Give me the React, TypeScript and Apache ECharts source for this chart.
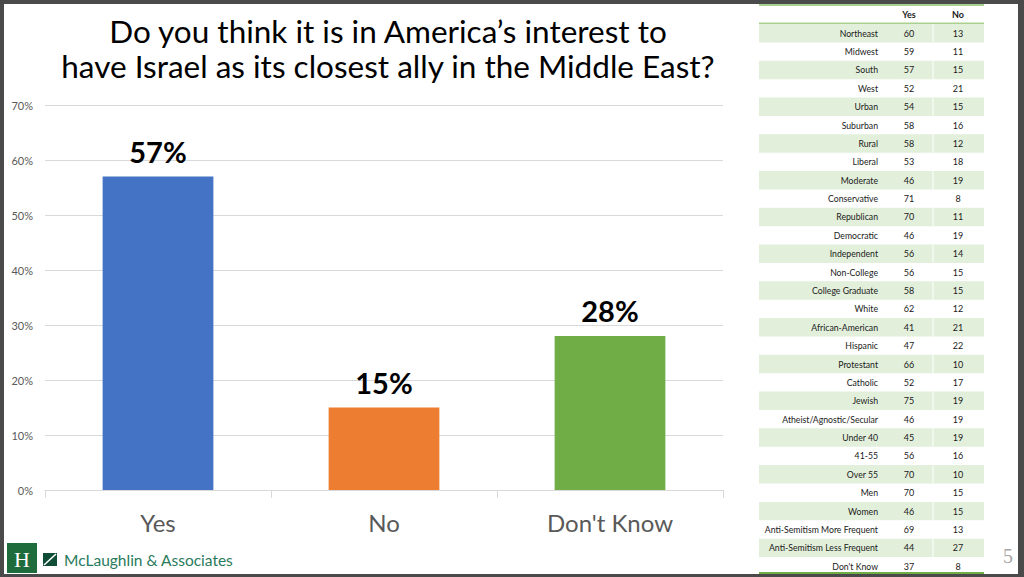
import React, { useEffect, useRef } from "react";
import * as echarts from "echarts";

const TITLE_LINES = [
  "Do you think it is in America\u2019s interest to",
  "have Israel as its closest ally in the Middle East?",
];
const CATEGORIES = ["Yes", "No", "Don't Know"];
const VALUES = [57, 15, 28];
const BAR_COLORS = ["#4472c4", "#ed7d31", "#70ad47"];

const TABLE_HEADERS = ["Yes", "No"];
const TABLE_LABELS = [
  "Northeast", "Midwest", "South", "West", "Urban", "Suburban", "Rural",
  "Liberal", "Moderate", "Conservative", "Republican", "Democratic", "Independent",
  "Non-College", "College Graduate", "White", "African-American", "Hispanic",
  "Protestant", "Catholic", "Jewish", "Atheist/Agnostic/Secular", "Under 40",
  "41-55", "Over 55", "Men", "Women", "Anti-Semitism More Frequent",
  "Anti-Semitism Less Frequent", "Don't Know",
];
const TABLE_YES = [60, 59, 57, 52, 54, 58, 58, 53, 46, 71, 70, 46, 56, 56, 58, 62, 41, 47, 66, 52, 75, 46, 45, 56, 70, 70, 46, 69, 44, 37];
const TABLE_NO = [13, 11, 15, 21, 15, 16, 12, 18, 19, 8, 11, 19, 14, 15, 15, 12, 21, 22, 10, 17, 19, 19, 19, 16, 10, 15, 15, 13, 27, 8];

const COMPANY = "McLaughlin & Associates";
const PAGE_NUMBER = "5";

function buildGraphics() {
  const g: any[] = [];
  const tL = 759, tR = 984, rowTop = 24, rowH = 18.38;
  const labelX = 878, yesX = 909, noX = 958, divX = 933;
  const green = "#a9d08e";
  const txt = "#1a1a1a";
  TABLE_LABELS.forEach((lab, i) => {
    const y = rowTop + i * rowH;
    if (i % 2 === 0) {
      g.push({ type: "rect", shape: { x: tL, y, width: tR - tL, height: rowH }, style: { fill: "#e2efda" } });
      g.push({ type: "line", shape: { x1: divX, y1: y, x2: divX, y2: y + rowH }, style: { stroke: "#ffffff", lineWidth: 1 } });
    }
    const cy = y + rowH / 2;
    g.push({ type: "text", x: labelX, y: cy, style: { text: lab, fill: txt, font: "8.7px Lato", align: "right", verticalAlign: "middle" } });
    g.push({ type: "text", x: yesX, y: cy, style: { text: String(TABLE_YES[i]), fill: txt, font: "9px Lato", align: "center", verticalAlign: "middle" } });
    g.push({ type: "text", x: noX, y: cy, style: { text: String(TABLE_NO[i]), fill: txt, font: "9px Lato", align: "center", verticalAlign: "middle" } });
  });
  g.push({ type: "text", x: yesX, y: 14, style: { text: TABLE_HEADERS[0], fill: txt, font: "bold 9px Lato", align: "center", verticalAlign: "middle" } });
  g.push({ type: "text", x: noX, y: 14, style: { text: TABLE_HEADERS[1], fill: txt, font: "bold 9px Lato", align: "center", verticalAlign: "middle" } });
  g.push({ type: "rect", shape: { x: tL, y: 4, width: tR - tL, height: 2 }, style: { fill: green } });
  g.push({ type: "rect", shape: { x: tL, y: 22.5, width: tR - tL, height: 1.5 }, style: { fill: green } });
  g.push({ type: "rect", shape: { x: tL, y: 572, width: tR - tL, height: 3 }, style: { fill: "#70ad47" } });

  // logo
  g.push({ type: "rect", shape: { x: 7, y: 543, width: 30, height: 30 }, style: { fill: "#1e6b3c" } });
  g.push({ type: "text", x: 22, y: 559, style: { text: "H", fill: "#ffffff", font: "22px 'Liberation Serif'", align: "center", verticalAlign: "middle" } });
  g.push({ type: "rect", shape: { x: 43, y: 553, width: 14, height: 13 }, style: { fill: "#0f4d36" } });
  g.push({ type: "line", shape: { x1: 44, y1: 565, x2: 56, y2: 554 }, style: { stroke: "#ffffff", lineWidth: 1.6 } });
  g.push({ type: "text", x: 64, y: 560, style: { text: COMPANY, fill: "#2a7a5c", font: "15.5px Lato", align: "left", verticalAlign: "middle" } });

  g.push({ type: "text", x: 1008, y: 556, style: { text: PAGE_NUMBER, fill: "#a6a6a6", font: "20px 'Liberation Serif'", align: "center", verticalAlign: "middle" } });

  const frame = "#4a4a4a";
  g.push({ type: "rect", shape: { x: 0, y: 0, width: 1024, height: 4 }, style: { fill: frame } });
  g.push({ type: "rect", shape: { x: 0, y: 0, width: 4, height: 577 }, style: { fill: frame } });
  g.push({ type: "rect", shape: { x: 1018, y: 0, width: 6, height: 577 }, style: { fill: frame } });
  g.push({ type: "rect", shape: { x: 0, y: 574, width: 1024, height: 3 }, style: { fill: frame } });
  return g;
}

export default function App() {
  const ref = useRef<HTMLDivElement>(null);
  useEffect(() => {
    document.body.style.margin = "0";
    if (!ref.current) return;
    const chart = echarts.init(ref.current, null, { renderer: "svg" });
    chart.setOption({
      animation: false,
      backgroundColor: "#ffffff",
      title: {
        text: TITLE_LINES.join("\n"),
        left: 388,
        top: 13,
        padding: 0,
        textAlign: "center",
        textStyle: { fontFamily: "Lato", fontSize: 31.5, fontWeight: "normal", color: "#000000", lineHeight: 35 },
      },
      grid: { left: 45, right: 301, top: 105, bottom: 87, containLabel: false },
      xAxis: {
        type: "category",
        data: CATEGORIES,
        axisLine: { lineStyle: { color: "#d9d9d9" } },
        axisTick: { show: true, length: 8, lineStyle: { color: "#d9d9d9" } },
        axisLabel: { color: "#595959", fontSize: 24, fontFamily: "Lato", margin: 20 },
      },
      yAxis: {
        type: "value",
        min: 0,
        max: 70,
        interval: 10,
        axisLine: { show: false },
        axisTick: { show: false },
        splitLine: { lineStyle: { color: "#d9d9d9" } },
        axisLabel: { formatter: "{value}%", color: "#595959", fontSize: 11, fontFamily: "Lato", margin: 12 },
      },
      series: [
        {
          type: "bar",
          data: VALUES.map((v, i) => ({ value: v, itemStyle: { color: BAR_COLORS[i] } })),
          barWidth: "49%",
          label: {
            show: true,
            position: "top",
            distance: 11,
            formatter: "{c}%",
            fontFamily: "Lato",
            fontWeight: "bold",
            fontSize: 29,
            color: "#000000",
          },
        },
      ],
      graphic: buildGraphics(),
    });
    return () => chart.dispose();
  }, []);
  return <div ref={ref} style={{ width: 1024, height: 577 }} />;
}
